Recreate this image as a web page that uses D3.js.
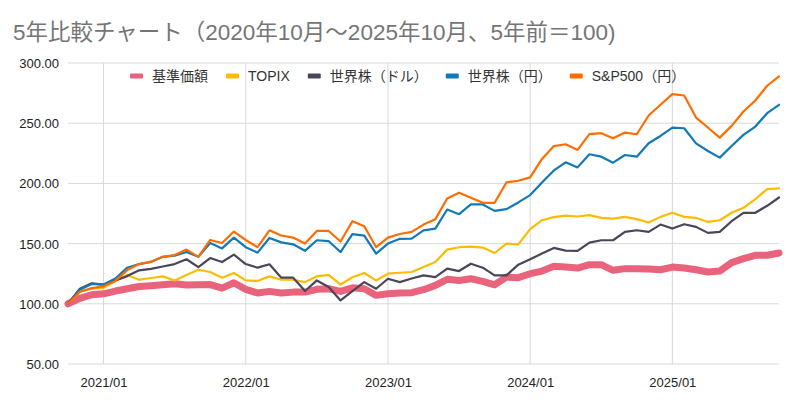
<!DOCTYPE html>
<html>
<head>
<meta charset="utf-8">
<script src="https://cdn.jsdelivr.net/npm/d3@7"></script>
<style>
  body { margin: 0; background: #fff; }
  svg { font-family: "Liberation Sans", Arial, "Noto Sans CJK JP", sans-serif; }
</style>
</head>
<body>
<div id="chart"></div>
<script>
const months = [
  "2020/10","2020/11","2020/12",
  "2021/01","2021/02","2021/03","2021/04","2021/05","2021/06","2021/07","2021/08","2021/09","2021/10","2021/11","2021/12",
  "2022/01","2022/02","2022/03","2022/04","2022/05","2022/06","2022/07","2022/08","2022/09","2022/10","2022/11","2022/12",
  "2023/01","2023/02","2023/03","2023/04","2023/05","2023/06","2023/07","2023/08","2023/09","2023/10","2023/11","2023/12",
  "2024/01","2024/02","2024/03","2024/04","2024/05","2024/06","2024/07","2024/08","2024/09","2024/10","2024/11","2024/12",
  "2025/01","2025/02","2025/03","2025/04","2025/05","2025/06","2025/07","2025/08","2025/09","2025/10"
];
const xTickLabels = ["2021/01", "2022/01", "2023/01", "2024/01", "2025/01"];
const yTickValues = [50, 100, 150, 200, 250, 300];

const seriesNames = ["基準価額", "TOPIX", "世界株（ドル）", "世界株（円）", "S&P500（円）"];
const seriesColors = ["#e8637b", "#fbbc04", "#4a4558", "#1279b8", "#ff6d01"];

const kijun = [100,104.5,107.5,108.3,110.6,112.5,114.4,115,115.8,116.7,115.6,115.8,116,113,117.5,
  112,109,110.3,109,109.7,109.7,112,112.5,110.3,113.3,112.5,107,
  108.3,108.9,109.2,111.7,115.3,120.3,119.4,120.8,118.6,115.8,122.2,121.7,
  125,127.2,131.1,130.5,129.7,132.5,132.5,127.8,129.2,129.2,128.9,128.3,
  130.5,129.7,128.3,126.4,127.2,134.2,137.5,140.3,140.3,142.2];
const topix = [100,110,112.5,113.3,119,124,120,121.4,122.8,119.4,124,128.3,126.4,121.7,125.6,
  119.4,119,122.8,120,120,118,122.8,124,116,122,125.6,119.4,
  125,125.8,126.4,130.5,134.7,145,147,147.5,146.7,142.2,150,149.4,
  162,169.4,172,173.3,172.5,173.6,171.4,170.8,172.2,170.3,167.5,172.2,
  175.6,172.2,171.4,168,169.4,175.6,179.7,186.9,195.3,195.8];
const worldUsd = [100,112.5,117,116,119.4,123,127.8,129,131,133,137,130.5,138,134.7,140.8,
  133,130,132.8,121.7,121.7,110.6,119.4,113.9,102.8,110.6,118,112.5,
  120.8,118,121,123.6,122.2,129.2,127.2,133.3,130,123.6,123.6,132.5,
  137,141.7,146.4,144.2,143.9,150.8,152.8,152.8,159.7,161.1,159.7,165.8,
  162.5,166.1,163.9,158.9,159.7,168.6,175.6,175.6,181.4,188.3];
const worldJpy = [100,111.7,116.5,116,121,130,133,134.7,139,140,143,139,150.5,146,155,
  147,142.5,154.7,151,149.4,144,152.8,152,143,157.8,156.7,141.7,
  150,154,154.2,161,162.5,178.3,174.4,182.5,182.5,177.2,178.6,184.2,
  190.3,200.8,210.8,217.5,213.3,224.2,222.2,217.2,223.6,222.2,233.3,239.4,
  246.4,245.8,233.3,226.9,221.4,231.1,240.3,247.2,258.3,265.3];
const sp500Jpy = [100,110,113,114.5,119,128,133,135,139,140.5,145,139,153,150.5,160,
  153,147,161,156.7,155,150,160.5,160.5,151.7,168.6,164.4,147,
  155,158,159.7,165.8,170.3,187.5,192.2,188,183.9,183.9,200.8,202.2,
  205,220.3,231,232.5,227.8,241,241.7,237.5,242.2,240.8,256.4,265.3,
  274.2,273,254.7,246.4,238,247.8,259.7,268.9,281.1,288.9];

const seriesValues = [kijun, topix, worldUsd, worldJpy, sp500Jpy];
const lineWidths = [7, 2.2, 2.2, 2.2, 2.2];

const width = 800, height = 405;
const plotLeft = 68, plotRight = 779, plotTop = 63, plotBottom = 364;

const svg = d3.select("#chart").append("svg")
  .attr("width", width)
  .attr("height", height);

svg.append("text")
  .attr("x", 13)
  .attr("y", 40)
  .attr("fill", "#757575")
  .style("font-size", "22.5px")
  .text("5年比較チャート（2020年10月～2025年10月、5年前＝100)");

const x = d3.scalePoint().domain(months).range([plotLeft, plotRight]);
const y = d3.scaleLinear().domain([50, 300]).range([plotBottom, plotTop]);

// grid
svg.append("g")
  .selectAll("line")
  .data(yTickValues)
  .join("line")
  .attr("x1", plotLeft).attr("x2", plotRight)
  .attr("y1", d => y(d)).attr("y2", d => y(d))
  .attr("stroke", "#d9d9d9")
  .attr("stroke-width", 1);

svg.append("g")
  .selectAll("line")
  .data(xTickLabels)
  .join("line")
  .attr("x1", d => x(d)).attr("x2", d => x(d))
  .attr("y1", plotTop).attr("y2", plotBottom)
  .attr("stroke", "#d9d9d9")
  .attr("stroke-width", 1);

// axes
const yAxis = svg.append("g")
  .attr("transform", `translate(${plotLeft - 6},0)`)
  .call(d3.axisLeft(y).tickValues(yTickValues).tickFormat(d3.format(".2f")).tickSize(0));
yAxis.select(".domain").remove();
yAxis.selectAll("text")
  .attr("fill", "#222")
  .style("font-size", "13px")
  .attr("dy", "0.35em");

const xAxis = svg.append("g")
  .attr("transform", `translate(0,${plotBottom})`)
  .call(d3.axisBottom(x).tickValues(xTickLabels).tickSize(0));
xAxis.select(".domain").remove();
xAxis.selectAll("text")
  .attr("fill", "#222")
  .style("font-size", "13px")
  .attr("y", 14)
  .attr("dy", "0.71em");

// lines
const line = d3.line()
  .x((d, i) => x(months[i]))
  .y(d => y(d));

seriesValues.forEach((vals, k) => {
  svg.append("path")
    .datum(vals)
    .attr("fill", "none")
    .attr("stroke", seriesColors[k])
    .attr("stroke-width", lineWidths[k])
    .attr("stroke-linejoin", "round")
    .attr("stroke-linecap", "round")
    .attr("d", line);
});

// legend
const legend = svg.append("g").attr("transform", "translate(130, 76)");
let lx = 0;
seriesNames.forEach((name, k) => {
  const item = legend.append("g").attr("transform", `translate(${lx},0)`);
  item.append("rect")
    .attr("x", 0).attr("y", -2.5)
    .attr("width", 13).attr("height", 5)
    .attr("rx", 1)
    .attr("fill", seriesColors[k]);
  const t = item.append("text")
    .attr("x", 22)
    .attr("y", 0)
    .attr("dy", "0.35em")
    .attr("fill", "#333")
    .style("font-size", "14px")
    .text(name);
  lx += 22 + t.node().getComputedTextLength() + 18;
});
</script>
</body>
</html>
